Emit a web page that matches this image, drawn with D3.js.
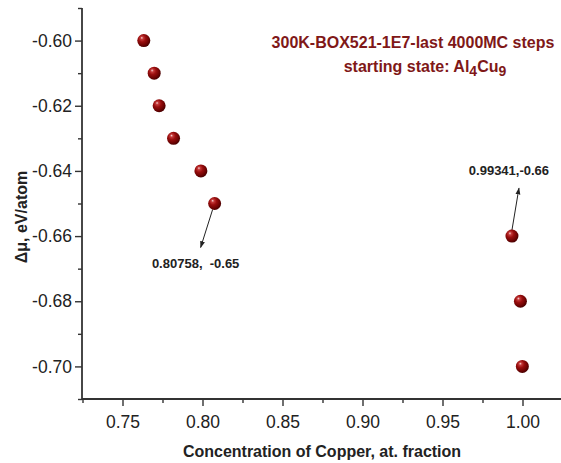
<!DOCTYPE html>
<html>
<head>
<meta charset="utf-8">
<script src="https://cdn.jsdelivr.net/npm/d3@7"></script>
<style>
  html, body { margin: 0; padding: 0; background: #fff; }
  svg { display: block; font-family: "Liberation Sans", Arial, sans-serif; }
</style>
</head>
<body>
<svg id="chart" width="561" height="463"></svg>
<script>
// Copper concentration (at. fraction) and chemical potential difference (eV/atom)
const concentration = [0.7633, 0.7698, 0.7729, 0.7819, 0.7990, 0.80758, 0.99341, 0.9987, 0.9999];
const deltaMu = [-0.60, -0.61, -0.62, -0.63, -0.64, -0.65, -0.66, -0.68, -0.70];

// Axis ticks
const xTicks = [0.75, 0.80, 0.85, 0.90, 0.95, 1.00];
const xTickLabels = ["0.75", "0.80", "0.85", "0.90", "0.95", "1.00"];
const xMinorTicks = [0.725, 0.775, 0.825, 0.875, 0.925, 0.975, 1.025];
const yTicks = [-0.60, -0.62, -0.64, -0.66, -0.68, -0.70];
const yTickLabels = ["-0.60", "-0.62", "-0.64", "-0.66", "-0.68", "-0.70"];
const yMinorTicks = [-0.59, -0.61, -0.63, -0.65, -0.67, -0.69, -0.71];

// Annotated points: index into the series, label text
const calloutIndex = [5, 6];
const calloutText = ["0.80758,  -0.65", "0.99341,-0.66"];

const svg = d3.select("#chart");
const W = 561, H = 463;

const x = d3.scaleLinear().domain([0.725, 1.025]).range([82.5, 562.5]);
const y = d3.scaleLinear().domain([-0.71, -0.59]).range([399, 8]);

const axisColor = "#333";
const textColor = "#222";

// Sphere-like marker fill
const defs = svg.append("defs");
const grad = defs.append("radialGradient")
  .attr("id", "ball").attr("cx", "40%").attr("cy", "38%").attr("r", "62%")
  .attr("fx", "34%").attr("fy", "28%");
[["0%", "#f6d2d2"], ["18%", "#c43a3a"], ["45%", "#9a0e0e"], ["80%", "#6e0303"], ["100%", "#4a0000"]]
  .forEach(([o, c]) => grad.append("stop").attr("offset", o).attr("stop-color", c));

defs.append("marker")
  .attr("id", "arrow").attr("viewBox", "0 0 10 10")
  .attr("refX", 9).attr("refY", 5)
  .attr("markerWidth", 7).attr("markerHeight", 7)
  .attr("markerUnits", "userSpaceOnUse")
  .attr("orient", "auto")
  .append("path").attr("d", "M0,1.5 L10,5 L0,8.5 Z").attr("fill", "#222");

// Minor ticks
const xMinor = svg.append("g").attr("transform", "translate(0,399)")
  .call(d3.axisBottom(x).tickValues(xMinorTicks).tickSize(4).tickSizeOuter(0).tickFormat(""));
const yMinor = svg.append("g").attr("transform", "translate(82,0)")
  .call(d3.axisLeft(y).tickValues(yMinorTicks).tickSize(4).tickSizeOuter(0).tickFormat(""));

// Major ticks and labels
const xAxis = svg.append("g").attr("transform", "translate(0,399)")
  .call(d3.axisBottom(x).tickValues(xTicks).tickSize(7).tickSizeOuter(0)
    .tickPadding(10).tickFormat((d, i) => xTickLabels[i]));
const yAxis = svg.append("g").attr("transform", "translate(82,0)")
  .call(d3.axisLeft(y).tickValues(yTicks).tickSize(7).tickSizeOuter(0)
    .tickPadding(3).tickFormat((d, i) => yTickLabels[i]));

[xMinor, yMinor, xAxis, yAxis].forEach(g => {
  g.selectAll("path.domain").remove();
  g.selectAll("line").attr("stroke", axisColor).attr("stroke-width", 1.4);
  g.selectAll("text").attr("fill", textColor).style("font-size", "17.5px")
    .style("font-family", "'Liberation Sans', Arial, sans-serif");
});

// Axis lines
svg.append("line").attr("x1", 82).attr("x2", W + 2).attr("y1", 399).attr("y2", 399)
  .attr("stroke", axisColor).attr("stroke-width", 1.8);
svg.append("line").attr("x1", 82).attr("x2", 82).attr("y1", y(-0.59)).attr("y2", 399.9)
  .attr("stroke", axisColor).attr("stroke-width", 1.8);

// Axis titles
svg.append("text")
  .attr("x", 322).attr("y", 457)
  .attr("text-anchor", "middle")
  .attr("font-size", 16).attr("font-weight", "bold").attr("fill", textColor)
  .text("Concentration of Copper, at. fraction");

svg.append("text")
  .attr("transform", "translate(27,217) rotate(-90)")
  .attr("text-anchor", "middle")
  .attr("font-size", 16).attr("font-weight", "bold").attr("fill", textColor)
  .text("Δμ, eV/atom");

// Run description
const title = svg.append("text")
  .attr("text-anchor", "middle")
  .attr("font-size", 16).attr("font-weight", "bold").attr("fill", "#7f1818");
title.append("tspan").attr("x", 413).attr("y", 48).text("300K-BOX521-1E7-last 4000MC steps");
const line2 = title.append("tspan").attr("x", 425).attr("y", 72);
line2.append("tspan").text("starting state: Al");
line2.append("tspan").attr("dy", 4).attr("font-size", 14).text("4");
line2.append("tspan").attr("dy", -4).text("Cu");
line2.append("tspan").attr("dy", 4).attr("font-size", 14).text("9");

// Callouts with arrows
const calloutOffset = [
  { from: [-2, 6], to: [-14, 44], label: [-19, 64] },
  { from: [0, -6], to: [7, -48], label: [-3, -61] }
];
calloutIndex.forEach((idx, k) => {
  const px = x(concentration[idx]), py = y(deltaMu[idx]);
  const o = calloutOffset[k];
  svg.append("line")
    .attr("x1", px + o.from[0]).attr("y1", py + o.from[1])
    .attr("x2", px + o.to[0]).attr("y2", py + o.to[1])
    .attr("stroke", "#222").attr("stroke-width", 1)
    .attr("marker-end", "url(#arrow)");
  svg.append("text")
    .attr("x", px + o.label[0]).attr("y", py + o.label[1])
    .attr("text-anchor", "middle")
    .attr("xml:space", "preserve")
    .style("white-space", "pre")
    .attr("font-size", 13).attr("font-weight", "bold").attr("fill", textColor)
    .text(calloutText[k]);
});

// Data points
svg.append("g").selectAll("circle")
  .data(concentration.map((c, i) => [c, deltaMu[i]]))
  .join("circle")
  .attr("cx", d => x(d[0]))
  .attr("cy", d => y(d[1]))
  .attr("r", 6.5)
  .attr("fill", "url(#ball)");
</script>
</body>
</html>
